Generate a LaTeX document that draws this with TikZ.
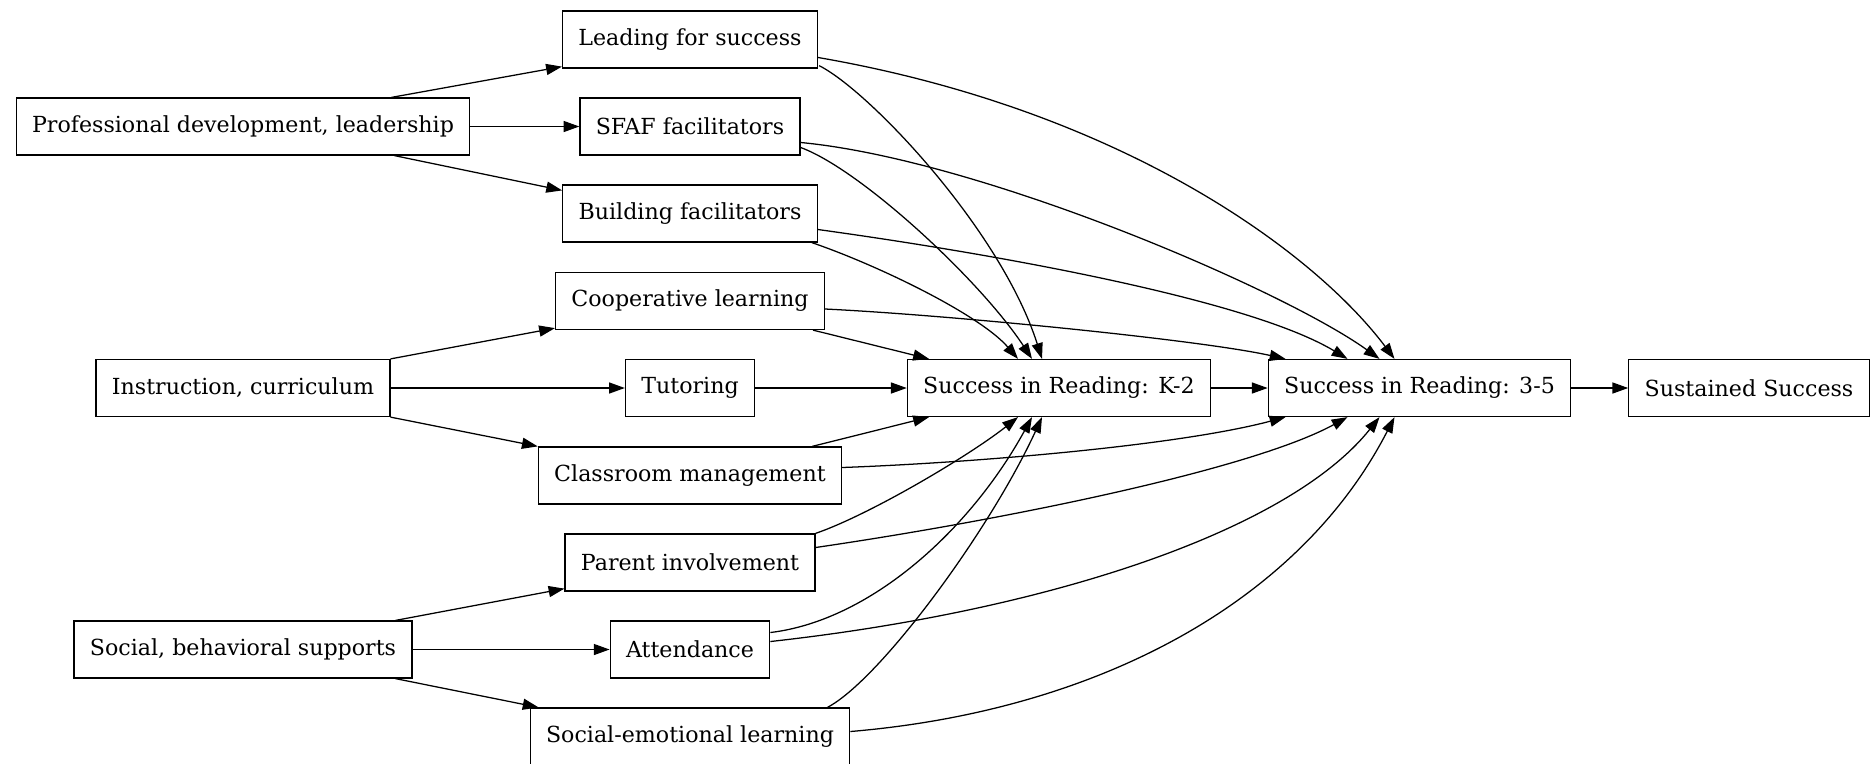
\documentclass[tikz,border=0pt]{standalone}
\usepackage{fontspec}
\setmainfont{DejaVu Serif}
\usepackage{tikz}
\usetikzlibrary{arrows.meta}
\usetikzlibrary{calc}
\tikzset{box/.style = {draw, rectangle, line width = 0.8pt, minimum height = 36pt, inner xsep = 10pt, font = \fontsize{14pt}{16pt}\selectfont}}
\tikzset{link/.style = {-{Triangle[length = 10pt, width = 7pt]}, line width = 0.8pt}}

\begin{document}
\begin{tikzpicture}[x = 0.632pt, y = -0.632pt]
    \useasboundingbox (0, 0) rectangle (1872, 763);

    % left column
    \node[box] (pd) at (243, 126.5) {Professional development, leadership};
    \node[box] (ic) at (243, 388) {Instruction, curriculum};
    \node[box] (sb) at (243, 649.5) {Social, behavioral supports};

    % middle column
    \node[box] (lead) at (690, 39.5) {Leading for success};
    \node[box] (sfaf) at (690, 126.5) {SFAF facilitators};
    \node[box] (bf) at (690, 213.5) {Building facilitators};
    \node[box] (coop) at (690, 301) {Cooperative learning};
    \node[box] (tut) at (690, 388) {Tutoring};
    \node[box] (cm) at (690, 475.5) {Classroom management};
    \node[box] (pi) at (690, 562.5) {Parent involvement};
    \node[box] (att) at (690, 649.5) {Attendance};
    \node[box] (sel) at (690, 736.5) {Social-emotional learning};

    % outcomes
    \node[box] (k2) at (1059, 388) {Success in Reading: K-2};
    \node[box] (r35) at (1419.5, 388) {Success in Reading: 3-5};
    \node[box] (ss) at (1749, 388) {Sustained Success};

    % left to middle
    \draw[link] ($(pd.north east) + (-79, 0)$) -- ($(lead.south west) + (0, -2)$);
    \draw[link] (pd.east) -- (sfaf.west);
    \draw[link] ($(pd.south east) + (-76, 0)$) -- ($(bf.north west) + (0, 6)$);
    \draw[link] (ic.north east) -- ($(coop.south west) + (0, -2)$);
    \draw[link] (ic.east) -- (tut.west);
    \draw[link] (ic.south east) -- (cm.north west);
    \draw[link] ($(sb.north east) + (-17, 0)$) -- ($(pi.south west) + (0, -3)$);
    \draw[link] (sb.east) -- (att.west);
    \draw[link] ($(sb.south east) + (-17, 0)$) -- ($(sel.north west) + (9, 0)$);

    % upper group
    \draw[link] ($(lead.south east) + (1, -3)$) .. controls +(50, 25) and +(-41, -129) .. ($(k2.north) + (-17, 0)$);
    \draw[link] ($(lead.east) + (0, 18)$) .. controls +(301, 52) and +(-82, -109) .. ($(r35.north) + (-25, 0)$);
    \draw[link] ($(sfaf.east) + (0, 21)$) .. controls +(60, 22) and +(-52, -79) .. ($(k2.north) + (-27, 0)$);
    \draw[link] ($(sfaf.east) + (0, 16)$) .. controls +(180, 17) and +(-96, -69) .. ($(r35.north) + (-40, 0)$);
    \draw[link] ($(bf.south east) + (-6, 0)$) .. controls +(67, 23) and +(-38, -44) .. ($(k2.north) + (-41, 0)$);
    \draw[link] ($(bf.east) + (0, 16)$) .. controls +(181, 25) and +(-98, -59) .. ($(r35.north) + (-72, 0)$);
    \draw[link] ($(coop.south east) + (-12, 0)$) -- ($(k2.north) + (-130, 0)$);
    \draw[link] ($(coop.east) + (0, 8)$) .. controls +(124, 6) and +(-85, -19) .. ($(r35.north) + (-134, 0)$);

    % middle row
    \draw[link] (tut.east) -- (k2.west);
    \draw[link] (k2.east) -- (r35.west);
    \draw[link] (r35.east) -- (ss.west);

    % lower group
    \draw[link] ($(cm.north east) + (-30, 0)$) -- ($(k2.south) + (-130, 0)$);
    \draw[link] ($(cm.east) + (0, -8)$) .. controls +(137, -5) and +(-105, 28) .. ($(r35.south) + (-134, 0)$);
    \draw[link] (pi.north east) .. controls +(55, -19) and +(-48, 38) .. ($(k2.south) + (-41, 0)$);
    \draw[link] ($(pi.east) + (0, -15)$) .. controls +(185, -27) and +(-97, 53) .. ($(r35.south) + (-72, 0)$);
    \draw[link] ($(att.east) + (0, -17)$) .. controls +(100, -12) and +(-62, 113) .. ($(k2.south) + (-27, 0)$);
    \draw[link] ($(att.east) + (0, -8)$) .. controls +(280, -31) and +(-90, 113) .. ($(r35.south) + (-40, 0)$);
    \draw[link] ($(sel.north east) + (-23, 0)$) .. controls +(53, -28) and +(-52, 113) .. ($(k2.south) + (-17, 0)$);
    \draw[link] ($(sel.east) + (0, -5)$) .. controls +(250, -21) and +(-94, 183) .. ($(r35.south) + (-25, 0)$);
\end{tikzpicture}
\end{document}
